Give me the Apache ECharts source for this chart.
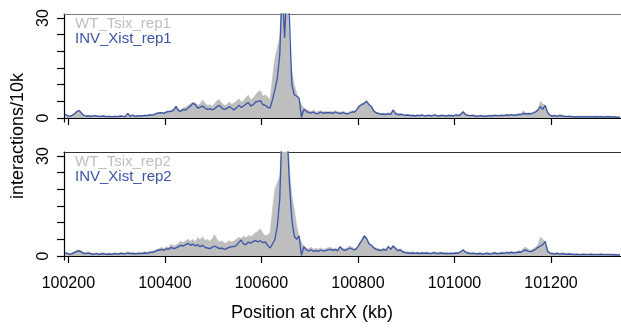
<!DOCTYPE html>
<html>
<head>
<meta charset="utf-8">
<script src="https://cdn.jsdelivr.net/npm/echarts@6/dist/echarts.min.js"></script>
<style>
  html, body { margin: 0; padding: 0; background: #fff; }
  #chart { width: 621px; height: 329px; }
</style>
</head>
<body>
<div id="chart"></div>
<script>
// 5 kb bins along chrX, first bin at 100193 kb
var binStart = 100193
var binSize = 5
var xTicks = [100200, 100400, 100600, 100800, 101000, 101200]
var yTicks = [0, 5, 10, 15, 20, 25, 30]
var yLabels = [0, 30]
var seriesNames = ['WT_Tsix_rep1', 'INV_Xist_rep1', 'WT_Tsix_rep2', 'INV_Xist_rep2']

var wt1 = [
  1.0, 0.8, 0.6, 0.9, 1.4, 2.0, 2.3, 1.5, 0.8, 0.7,
  0.7, 0.6, 0.8, 0.7, 0.6, 0.6, 0.7, 0.5, 0.6, 0.5,
  0.5, 0.6, 0.5, 0.7, 0.6, 0.5, 1.5, 0.6, 0.9, 0.6,
  0.7, 0.8, 0.7, 0.9, 0.8, 1.0, 1.0, 1.2, 1.5, 1.6,
  1.8, 1.6, 2.0, 2.2, 2.4, 2.8, 3.6, 2.6, 2.4, 3.0,
  3.2, 3.8, 4.2, 4.8, 4.5, 3.8, 4.2, 5.4, 4.5, 3.8,
  4.0, 3.6, 4.2, 5.2, 5.5, 4.4, 3.8, 4.0, 4.8, 4.2,
  4.4, 5.0, 5.8, 4.8, 5.2, 6.2, 6.8, 5.4, 6.0, 7.0,
  7.8, 8.2, 6.5, 7.0, 6.2, 5.5, 12, 18, 21, 24,
  40, 45, 38, 22, 14, 10, 7.5, 5.5, 4.0, 3.0,
  2.6, 2.2, 2.0, 2.4, 1.8, 2.0, 2.2, 1.8, 2.0, 1.9,
  2.0, 1.8, 2.2, 1.9, 1.7, 2.0, 1.8, 1.6, 1.9, 2.2,
  2.0, 2.8, 3.8, 4.4, 4.6, 5.2, 4.2, 3.6, 2.4, 1.8,
  1.6, 1.4, 1.5, 1.3, 1.6, 1.4, 2.6, 1.6, 1.3, 1.4,
  1.2, 1.0, 1.1, 0.9, 1.0, 0.8, 1.0, 0.9, 1.1, 0.8,
  0.9, 1.0, 0.8, 1.1, 0.9, 0.8, 1.0, 0.9, 0.8, 1.0,
  0.9, 0.8, 1.1, 0.9, 1.3, 2.2, 1.2, 1.0, 0.9, 1.0,
  0.8, 0.7, 0.9, 0.8, 0.7, 0.8, 0.9, 0.8, 1.0, 0.9,
  0.9, 1.0, 0.9, 1.1, 1.0, 1.2, 1.0, 1.1, 1.3, 1.2,
  2.2, 1.4, 1.6, 1.5, 1.8, 2.2, 2.6, 5.0, 4.2, 3.8,
  2.0, 1.0, 0.8, 0.9, 0.7, 1.0, 0.8, 0.7, 0.6, 0.7,
  0.6, 0.5, 0.6, 0.5, 0.6, 0.5, 0.6, 0.5, 0.6, 0.5,
  0.6, 0.5, 0.6, 0.5, 0.5, 0.6, 0.5, 0.4, 0.5, 0.4, 0.4
]
var inv1 = [
  1.0, 0.7, 0.5, 0.8, 1.3, 2.0, 2.2, 1.3, 0.7, 0.6,
  0.6, 0.5, 0.7, 0.6, 0.5, 0.5, 0.6, 0.4, 0.5, 0.4,
  0.4, 0.5, 0.4, 0.6, 0.5, 0.4, 1.4, 0.5, 0.9, 0.5,
  0.6, 0.7, 0.6, 0.8, 0.7, 0.9, 0.9, 1.0, 1.4, 1.5,
  1.6, 1.4, 1.8, 1.9, 2.0, 2.3, 3.5, 2.2, 2.0, 2.6,
  2.4, 3.0, 3.6, 4.4, 4.0, 3.0, 3.2, 3.6, 3.0, 2.6,
  2.8, 2.4, 2.8, 3.4, 3.8, 3.0, 2.6, 2.8, 3.4, 3.0,
  2.4, 3.0, 3.8, 3.2, 3.6, 4.2, 4.6, 3.6, 4.0, 4.8,
  5.0, 5.2, 4.0, 3.8, 3.2, 3.0, 5.5, 8.5, 12, 19,
  40, 24, 40, 30, 10, 7.0, 6.5, 6.0, 0.2, 2.6,
  2.0, 1.6, 1.5, 1.8, 1.3, 1.4, 1.8, 1.4, 1.6, 1.5,
  1.6, 1.4, 1.8, 1.5, 1.3, 1.6, 1.4, 1.2, 1.5, 1.8,
  1.8, 2.6, 3.6, 4.0, 4.4, 5.0, 4.0, 3.4, 2.0, 1.5,
  1.3, 1.1, 1.2, 1.0, 1.3, 1.1, 2.4, 1.3, 1.0, 1.1,
  1.0, 0.8, 0.9, 0.7, 0.8, 0.6, 0.8, 0.7, 0.9, 0.6,
  0.7, 0.8, 0.6, 0.9, 0.7, 0.6, 0.8, 0.7, 0.6, 0.8,
  0.7, 0.6, 0.9, 0.7, 1.1, 1.8, 1.0, 0.8, 0.7, 0.8,
  0.6, 0.5, 0.7, 0.6, 0.5, 0.6, 0.7, 0.6, 0.8, 0.7,
  0.7, 0.8, 0.7, 0.9, 0.8, 1.0, 0.8, 0.9, 1.1, 1.0,
  1.4, 1.2, 1.3, 1.2, 1.5, 1.8, 2.4, 3.4, 2.6, 3.8,
  1.6, 0.8, 0.6, 0.7, 0.5, 0.8, 0.6, 0.5, 0.4, 0.5,
  0.4, 0.3, 0.4, 0.3, 0.4, 0.3, 0.4, 0.3, 0.4, 0.3,
  0.4, 0.3, 0.4, 0.3, 0.3, 0.4, 0.3, 0.3, 0.3, 0.2, 0.2
]
var wt2 = [
  1.2, 1.0, 0.8, 1.0, 1.4, 1.8, 1.9, 1.4, 1.0, 1.2,
  1.3, 0.9, 0.8, 1.0, 0.8, 0.9, 1.0, 0.8, 0.9, 0.8,
  0.9, 1.0, 0.8, 1.1, 1.0, 0.9, 1.3, 1.0, 1.1, 0.9,
  1.0, 1.1, 1.0, 1.3, 1.1, 1.4, 1.5, 1.6, 2.0, 2.2,
  2.6, 2.2, 2.8, 2.6, 3.6, 3.0, 3.2, 3.8, 4.4, 4.0,
  4.6, 5.0, 4.4, 5.0, 4.2, 5.6, 4.8, 5.8, 4.6, 5.0,
  4.4, 5.2, 6.4, 5.0, 4.2, 4.6, 3.8, 4.0, 4.6, 4.2,
  4.4, 5.0, 5.6, 5.2, 6.0, 5.4, 6.2, 5.8, 6.4, 7.0,
  7.4, 8.2, 6.8, 6.0, 6.4, 7.0, 14, 20, 22, 24,
  40, 45, 40, 26, 18, 14, 9.0, 6.0, 4.0, 3.0,
  2.4, 2.2, 2.6, 2.0, 2.3, 2.1, 2.4, 2.0, 2.2, 2.5,
  2.6, 2.2, 2.4, 2.0, 2.8, 2.4, 2.2, 2.5, 3.0, 2.6,
  2.2, 2.6, 3.8, 5.0, 6.2, 5.6, 4.0, 3.4, 2.8, 2.4,
  2.2, 2.0, 2.4, 2.1, 3.0, 2.4, 3.2, 2.6, 2.0, 2.2,
  1.6, 1.4, 1.3, 1.2, 1.3, 1.1, 1.2, 1.0, 1.2, 1.1,
  1.2, 1.0, 1.1, 1.3, 1.0, 1.1, 1.2, 1.0, 1.1, 1.0,
  1.1, 1.0, 1.2, 1.1, 1.6, 2.0, 1.4, 1.2, 1.0, 1.1,
  1.0, 0.9, 1.1, 0.8, 1.0, 1.1, 0.9, 1.0, 1.2, 1.0,
  1.0, 1.2, 1.1, 1.3, 1.2, 1.4, 1.2, 1.3, 1.6, 1.5,
  2.4, 2.6, 2.0, 1.8, 2.2, 2.6, 3.4, 5.6, 5.0, 4.0,
  1.8, 1.1, 1.0, 0.9, 1.1, 0.8, 1.0, 0.9, 0.8, 0.9,
  0.8, 0.7, 0.8, 0.6, 0.7, 0.8, 0.6, 0.7, 0.8, 0.7,
  0.7, 0.6, 0.8, 0.6, 0.7, 0.6, 0.7, 0.6, 0.6, 0.5, 0.5
]
var inv2 = [
  0.9, 0.7, 0.5, 0.7, 1.0, 1.4, 1.5, 1.1, 0.7, 0.8,
  0.8, 0.6, 0.5, 0.7, 0.5, 0.6, 0.7, 0.5, 0.6, 0.5,
  0.6, 0.7, 0.5, 0.8, 0.7, 0.6, 0.9, 0.7, 0.8, 0.6,
  0.7, 0.8, 0.7, 0.9, 0.8, 1.0, 1.1, 1.2, 1.6, 1.8,
  2.0, 1.7, 2.2, 2.0, 2.6, 2.2, 2.4, 2.8, 3.2, 3.0,
  3.4, 3.8, 3.2, 3.6, 3.0, 3.4, 2.8, 3.2, 2.6, 2.4,
  2.2, 2.6, 3.0, 2.6, 2.2, 2.4, 2.0, 2.2, 2.6, 2.8,
  2.8, 3.2, 4.0, 4.8, 3.6, 3.4, 4.2, 3.8, 4.4, 4.6,
  4.2, 4.6, 4.0, 4.2, 3.2, 2.4, 3.6, 5.0, 9.0, 17,
  40, 40, 38, 22, 11, 6.0, 5.0, 6.0, 0.2, 2.8,
  1.8, 1.5, 1.9, 1.4, 1.6, 1.4, 1.8, 1.5, 1.6, 1.9,
  2.0, 1.7, 1.9, 1.6, 2.8, 1.9, 1.7, 2.0, 2.4, 2.1,
  1.8, 2.4, 3.6, 4.6, 6.0, 5.2, 3.6, 3.2, 2.4, 2.0,
  1.8, 1.6, 2.0, 1.7, 2.8, 2.0, 3.0, 2.2, 1.6, 1.8,
  1.2, 1.0, 0.9, 0.8, 0.9, 0.8, 0.9, 0.7, 0.9, 0.8,
  0.9, 0.7, 0.8, 1.0, 0.7, 0.8, 0.9, 0.7, 0.8, 0.7,
  0.8, 0.7, 0.9, 0.8, 1.3, 1.8, 1.1, 0.9, 0.7, 0.8,
  0.7, 0.6, 0.8, 0.5, 0.7, 0.8, 0.6, 0.7, 0.9, 0.7,
  0.7, 0.9, 0.8, 1.0, 0.9, 1.1, 0.9, 1.0, 1.2, 1.1,
  1.6, 1.8, 1.4, 1.3, 1.6, 2.0, 2.6, 3.0, 3.4, 4.4,
  1.4, 0.8, 0.7, 0.6, 0.8, 0.5, 0.7, 0.6, 0.5, 0.6,
  0.5, 0.4, 0.5, 0.4, 0.4, 0.5, 0.4, 0.4, 0.5, 0.4,
  0.4, 0.4, 0.5, 0.4, 0.4, 0.4, 0.4, 0.3, 0.4, 0.3, 0.3
]

var FONT = '"Liberation Sans", Arial, Helvetica, sans-serif'
var GRAY = '#bebebe'
var BLUE = '#3b54a6'

function toPoints(values) {
  return values.map(function (v, i) { return [binStart + binSize * i, v] })
}

function plain(v) { return String(v) }

function bottomAxis(gridIndex, showLabels) {
  return {
    type: 'value', gridIndex: gridIndex, position: 'bottom',
    min: 100191, max: 101345,
    axisLine: { show: true, lineStyle: { color: '#000', width: 1.2 } },
    axisTick: { show: true, customValues: xTicks, length: 7, lineStyle: { color: '#000', width: 1.2 } },
    axisLabel: {
      show: showLabels, customValues: xTicks, margin: 16, formatter: plain,
      color: '#000', fontSize: 16, fontFamily: FONT
    },
    splitLine: { show: false }
  }
}

function topAxis(gridIndex, color) {
  return {
    type: 'value', gridIndex: gridIndex, position: 'top',
    min: 100191, max: 101345,
    axisLine: { show: true, lineStyle: { color: color, width: 1.2 } },
    axisTick: { show: false }, axisLabel: { show: false }, splitLine: { show: false }
  }
}

function leftAxis(gridIndex) {
  return {
    type: 'value', gridIndex: gridIndex,
    min: -1.2, max: 31.2,
    axisLine: { show: true, lineStyle: { color: '#000', width: 1.2 } },
    axisTick: { show: true, customValues: yTicks, length: 7, lineStyle: { color: '#000', width: 1.2 } },
    axisLabel: {
      show: true, customValues: yLabels, rotate: 90, margin: 12, formatter: plain,
      color: '#000', fontSize: 16, fontFamily: FONT
    },
    splitLine: { show: false }
  }
}

function grayArea(name, xi, yi, values) {
  return {
    name: name, type: 'line', xAxisIndex: xi, yAxisIndex: yi,
    data: toPoints(values), symbol: 'none', silent: true,
    lineStyle: { width: 0.6, color: GRAY }, itemStyle: { color: GRAY },
    areaStyle: { color: GRAY, opacity: 1 }
  }
}

function blueLine(name, xi, yi, values) {
  return {
    name: name, type: 'line', xAxisIndex: xi, yAxisIndex: yi,
    data: toPoints(values), symbol: 'none', silent: true,
    lineStyle: { width: 1.3, color: BLUE }, itemStyle: { color: BLUE }
  }
}

function legendFor(top, grayName, blueName) {
  return {
    top: top, left: 70, orient: 'vertical', icon: 'none',
    itemWidth: 0, itemHeight: 13, itemGap: 0, padding: 0, selectedMode: false,
    textStyle: { fontSize: 15, fontFamily: FONT },
    data: [
      { name: grayName, textStyle: { color: GRAY } },
      { name: blueName, textStyle: { color: BLUE } }
    ]
  }
}

var myChart = echarts.init(document.getElementById('chart'))
var option = {
  backgroundColor: '#ffffff',
  animation: false,
  grid: [
    { left: 64, right: -3, top: 14, height: 108 },
    { left: 64, right: -3, top: 152, height: 108 }
  ],
  legend: [
    legendFor(16, seriesNames[0], seriesNames[1]),
    legendFor(154, seriesNames[2], seriesNames[3])
  ],
  xAxis: [bottomAxis(0, false), topAxis(0, '#777'), bottomAxis(1, true), topAxis(1, '#333')],
  yAxis: [leftAxis(0), leftAxis(1)],
  series: [
    grayArea(seriesNames[0], 0, 0, wt1),
    blueLine(seriesNames[1], 0, 0, inv1),
    grayArea(seriesNames[2], 2, 1, wt2),
    blueLine(seriesNames[3], 2, 1, inv2)
  ],
  graphic: [
    {
      type: 'text', x: 18, y: 136, rotation: Math.PI / 2,
      style: { text: 'interactions/10k', fill: '#000', font: '18px ' + FONT, align: 'center', verticalAlign: 'middle' }
    },
    {
      type: 'text', x: 312, y: 313,
      style: { text: 'Position at chrX (kb)', fill: '#000', font: '18px ' + FONT, align: 'center', verticalAlign: 'middle' }
    }
  ]
}
myChart.setOption(option, true)
</script>
</body>
</html>
